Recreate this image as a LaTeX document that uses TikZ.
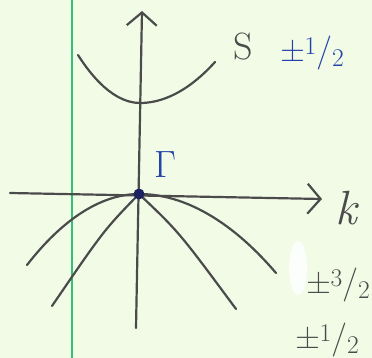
\documentclass[tikz,border=0pt]{standalone}
\usetikzlibrary{arrows.meta}

\definecolor{paper}{HTML}{F1FBE6}
\definecolor{margin}{HTML}{35C07A}
\definecolor{ink}{HTML}{4B4B4B}
\definecolor{bink}{HTML}{2442A8}
\definecolor{dotink}{HTML}{1C2160}

\newcommand{\hfrac}[2]{\raisebox{0.5ex}{\scalebox{0.75}{#1}}/\raisebox{-0.35ex}{\scalebox{0.75}{#2}}}

\begin{document}
\begin{tikzpicture}[
  x=1pt,y=-1pt,
  band/.style={ink,line width=2.2pt,line cap=round},
  axis/.style={band,-{Straight Barb[length=13pt,width=30pt,line width=2.2pt]}},
  lbl/.style={font=\fontsize{34}{38}\selectfont,inner sep=0pt,ink},
  blbl/.style={lbl,bink},
]
\useasboundingbox[fill=paper] (0,0) rectangle (372,358);

% ---- notebook margin ----
\draw[margin,line width=2pt] (72,0) -- (72,358);
\fill[white,opacity=0.85] (298,268) ellipse (9 and 27);

% ---- axes ----
\coordinate (G) at (139,194);
\coordinate (eBot) at (136,328);
\coordinate (eTop) at (142,11);
\coordinate (kL) at (10,193);
\coordinate (kR) at (322,199);
\draw[axis] (eBot) -- (eTop);
\draw[axis] (kL) -- (kR);

% ---- conduction band (s) ----
\draw[band] (78,55) parabola bend (140,103) (215,62);

% ---- valence bands ----
\draw[band] (27,265) parabola bend (G) (276,273);
\draw[band] (52,306) .. controls (104,230) .. (G) .. controls (179,232) .. (236,309);

\fill[dotink] (G) circle (5.5pt);

% ---- labels ----
\node[blbl,font=\fontsize{38}{42}\selectfont] (gam) at (165,165) {Γ};
\node[lbl,font=\fontsize{48}{52}\selectfont\itshape] (kk) at (346,208) {k};
\node[lbl,font=\fontsize{38}{42}\selectfont] (sb) at (243,47) {S};
\node[blbl] (sj) at (312,53) {±\hfrac{1}{2}};
\node[lbl] (hh) at (338,285) {±\hfrac{3}{2}};
\node[lbl] (lh) at (327,340) {±\hfrac{1}{2}};
\end{tikzpicture}
\end{document}
